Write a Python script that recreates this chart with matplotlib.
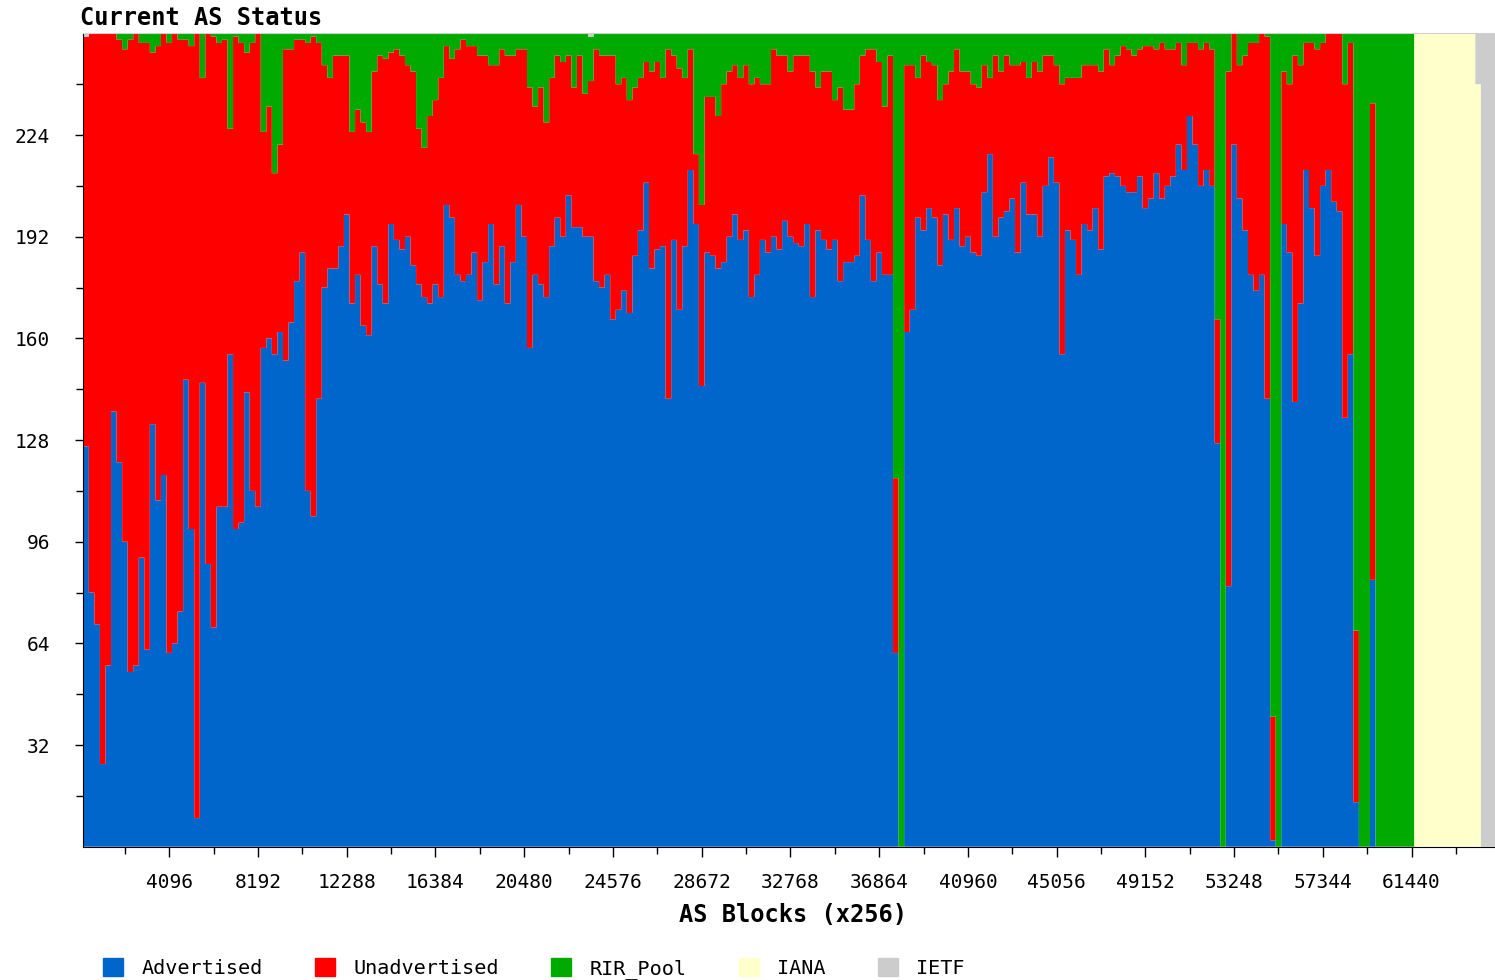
import numpy as np
import matplotlib
matplotlib.use('Agg')
import matplotlib.pyplot as plt
from matplotlib.patches import Patch

# one bar per block of 256 AS numbers (256 blocks), values = AS count per block
advertised = [
    126, 80, 70, 26, 57, 137, 121, 96, 55, 57, 91, 62, 133, 109, 117, 61,
    64, 74, 147, 100, 9, 146, 89, 69, 107, 107, 155, 100, 102, 143, 112, 107,
    157, 160, 155, 162, 153, 165, 178, 187, 112, 104, 141, 176, 182, 182, 189, 199,
    171, 180, 164, 161, 189, 177, 171, 196, 191, 188, 192, 183, 177, 173, 171, 177,
    173, 202, 198, 180, 178, 180, 187, 172, 184, 196, 177, 189, 171, 184, 202, 192,
    157, 180, 177, 173, 189, 198, 192, 205, 195, 195, 192, 192, 178, 176, 180, 166,
    169, 175, 168, 186, 194, 209, 182, 188, 189, 141, 191, 169, 189, 213, 196, 145,
    187, 186, 182, 184, 192, 199, 191, 194, 173, 180, 191, 187, 192, 188, 197, 192,
    190, 189, 196, 173, 194, 191, 188, 191, 178, 184, 184, 186, 205, 191, 178, 187,
    180, 180, 61, 0, 162, 169, 198, 194, 201, 198, 183, 199, 191, 201, 189, 192,
    187, 186, 206, 218, 192, 198, 200, 204, 187, 209, 199, 199, 192, 208, 217, 209,
    155, 194, 191, 180, 196, 194, 201, 188, 211, 212, 211, 208, 206, 206, 211, 201,
    204, 212, 204, 208, 211, 221, 213, 230, 221, 208, 213, 208, 127, 0, 82, 221,
    204, 194, 180, 175, 180, 141, 2, 0, 196, 187, 140, 171, 213, 201, 186, 208,
    213, 203, 200, 135, 155, 14, 0, 0, 84, 0, 0, 0, 0, 0, 0, 0,
    0, 0, 0, 0, 0, 0, 0, 0, 0, 0, 0, 0, 0, 0, 0, 0,
]
unadvertised = [
    129, 176, 186, 230, 199, 119, 133, 155, 199, 199, 162, 191, 117, 143, 139, 192,
    192, 180, 107, 152, 247, 96, 167, 186, 146, 147, 71, 155, 151, 107, 141, 149,
    68, 73, 57, 59, 98, 86, 76, 67, 141, 151, 112, 70, 60, 67, 60, 50,
    54, 52, 64, 64, 55, 72, 77, 54, 60, 61, 54, 61, 49, 47, 59, 58,
    69, 50, 50, 71, 76, 72, 65, 77, 65, 50, 69, 62, 78, 65, 49, 59,
    82, 53, 62, 55, 53, 51, 55, 44, 44, 54, 45, 49, 73, 73, 69, 83,
    71, 67, 67, 53, 48, 38, 62, 59, 53, 110, 58, 76, 53, 38, 22, 57,
    49, 50, 48, 56, 52, 47, 51, 52, 67, 62, 49, 53, 59, 61, 52, 52,
    59, 60, 53, 71, 45, 53, 56, 44, 61, 48, 48, 54, 44, 60, 73, 60,
    53, 69, 55, 0, 84, 77, 44, 55, 46, 48, 52, 41, 53, 50, 55, 52,
    53, 53, 40, 24, 57, 46, 49, 42, 59, 38, 43, 48, 52, 41, 32, 37,
    85, 48, 51, 62, 50, 52, 45, 56, 40, 34, 38, 44, 45, 43, 40, 51,
    48, 39, 49, 43, 40, 32, 33, 23, 32, 43, 40, 43, 39, 0, 162, 35,
    42, 55, 73, 78, 76, 114, 39, 0, 48, 53, 109, 75, 40, 52, 65, 45,
    43, 53, 56, 105, 98, 54, 0, 0, 150, 0, 0, 0, 0, 0, 0, 0,
    0, 0, 0, 0, 0, 0, 0, 0, 0, 0, 0, 0, 0, 0, 0, 0,
]
rir_pool = [
    0, 0, 0, 0, 0, 0, 2, 5, 2, 0, 3, 3, 6, 4, 0, 3,
    0, 2, 2, 4, 0, 14, 0, 1, 3, 2, 30, 1, 3, 6, 3, 0,
    31, 23, 44, 35, 5, 5, 2, 2, 3, 1, 3, 10, 14, 7, 7, 7,
    31, 24, 28, 31, 12, 7, 8, 6, 5, 7, 10, 12, 30, 36, 26, 21,
    14, 4, 8, 5, 2, 4, 4, 7, 7, 10, 10, 5, 7, 7, 5, 5,
    17, 23, 17, 28, 14, 7, 9, 7, 17, 7, 19, 14, 5, 7, 7, 7,
    16, 14, 21, 17, 14, 9, 12, 9, 14, 5, 7, 11, 14, 5, 38, 54,
    20, 20, 26, 16, 12, 10, 14, 10, 16, 14, 16, 16, 5, 7, 7, 12,
    7, 7, 7, 12, 17, 12, 12, 21, 17, 24, 24, 16, 7, 5, 5, 9,
    23, 7, 140, 256, 10, 10, 14, 7, 9, 10, 21, 16, 12, 5, 12, 12,
    16, 17, 10, 14, 7, 12, 7, 10, 10, 9, 14, 9, 12, 7, 7, 10,
    16, 14, 14, 14, 10, 10, 10, 12, 5, 10, 7, 4, 5, 7, 5, 4,
    4, 5, 3, 5, 5, 3, 10, 3, 3, 5, 3, 5, 90, 256, 12, 0,
    10, 7, 3, 3, 0, 1, 215, 256, 12, 16, 7, 10, 3, 3, 5, 3,
    0, 0, 0, 16, 3, 188, 256, 256, 22, 256, 256, 256, 256, 256, 256, 256,
    0, 0, 0, 0, 0, 0, 0, 0, 0, 0, 0, 0, 0, 0, 0, 0,
]
iana = [
    0, 0, 0, 0, 0, 0, 0, 0, 0, 0, 0, 0, 0, 0, 0, 0,
    0, 0, 0, 0, 0, 0, 0, 0, 0, 0, 0, 0, 0, 0, 0, 0,
    0, 0, 0, 0, 0, 0, 0, 0, 0, 0, 0, 0, 0, 0, 0, 0,
    0, 0, 0, 0, 0, 0, 0, 0, 0, 0, 0, 0, 0, 0, 0, 0,
    0, 0, 0, 0, 0, 0, 0, 0, 0, 0, 0, 0, 0, 0, 0, 0,
    0, 0, 0, 0, 0, 0, 0, 0, 0, 0, 0, 0, 0, 0, 0, 0,
    0, 0, 0, 0, 0, 0, 0, 0, 0, 0, 0, 0, 0, 0, 0, 0,
    0, 0, 0, 0, 0, 0, 0, 0, 0, 0, 0, 0, 0, 0, 0, 0,
    0, 0, 0, 0, 0, 0, 0, 0, 0, 0, 0, 0, 0, 0, 0, 0,
    0, 0, 0, 0, 0, 0, 0, 0, 0, 0, 0, 0, 0, 0, 0, 0,
    0, 0, 0, 0, 0, 0, 0, 0, 0, 0, 0, 0, 0, 0, 0, 0,
    0, 0, 0, 0, 0, 0, 0, 0, 0, 0, 0, 0, 0, 0, 0, 0,
    0, 0, 0, 0, 0, 0, 0, 0, 0, 0, 0, 0, 0, 0, 0, 0,
    0, 0, 0, 0, 0, 0, 0, 0, 0, 0, 0, 0, 0, 0, 0, 0,
    0, 0, 0, 0, 0, 0, 0, 0, 0, 0, 0, 0, 0, 0, 0, 0,
    256, 256, 256, 256, 256, 256, 256, 256, 256, 256, 256, 240, 0, 0, 0, 0,
]
ietf = [
    1, 0, 0, 0, 0, 0, 0, 0, 0, 0, 0, 0, 0, 0, 0, 0,
    0, 0, 0, 0, 0, 0, 0, 0, 0, 0, 0, 0, 0, 0, 0, 0,
    0, 0, 0, 0, 0, 0, 0, 0, 0, 0, 0, 0, 0, 0, 0, 0,
    0, 0, 0, 0, 0, 0, 0, 0, 0, 0, 0, 0, 0, 0, 0, 0,
    0, 0, 0, 0, 0, 0, 0, 0, 0, 0, 0, 0, 0, 0, 0, 0,
    0, 0, 0, 0, 0, 0, 0, 0, 0, 0, 0, 1, 0, 0, 0, 0,
    0, 0, 0, 0, 0, 0, 0, 0, 0, 0, 0, 0, 0, 0, 0, 0,
    0, 0, 0, 0, 0, 0, 0, 0, 0, 0, 0, 0, 0, 0, 0, 0,
    0, 0, 0, 0, 0, 0, 0, 0, 0, 0, 0, 0, 0, 0, 0, 0,
    0, 0, 0, 0, 0, 0, 0, 0, 0, 0, 0, 0, 0, 0, 0, 0,
    0, 0, 0, 0, 0, 0, 0, 0, 0, 0, 0, 0, 0, 0, 0, 0,
    0, 0, 0, 0, 0, 0, 0, 0, 0, 0, 0, 0, 0, 0, 0, 0,
    0, 0, 0, 0, 0, 0, 0, 0, 0, 0, 0, 0, 0, 0, 0, 0,
    0, 0, 0, 0, 0, 0, 0, 0, 0, 0, 0, 0, 0, 0, 0, 0,
    0, 0, 0, 0, 0, 0, 0, 0, 0, 0, 0, 0, 0, 0, 0, 0,
    0, 0, 0, 0, 0, 0, 0, 0, 0, 0, 0, 16, 256, 256, 256, 256,
]

series_names = ['Advertised', 'Unadvertised', 'RIR_Pool', 'IANA', 'IETF']
series_colors = ['#0066CC', '#FF0000', '#00AA00', '#FFFFCC', '#CCCCCC']

y_ticks = [32, 64, 96, 128, 160, 192, 224]
x_tick_labels = ['4096', '8192', '12288', '16384', '20480', '24576', '28672',
                 '32768', '36864', '40960', '45056', '49152', '53248',
                 '57344', '61440']

W, H = 1495, 980
fig = plt.figure(figsize=(W / 100, H / 100), dpi=100)
fig.patch.set_facecolor('white')

# plot area in pixels (right edge runs a little past the picture, like the original)
left, right, top, bottom = 83.3, 1503.1, 33.4, 846.7
ax = fig.add_axes([left / W, 1 - bottom / H, (right - left) / W, (bottom - top) / H])

mono = 'DejaVu Sans Mono'
edges = np.arange(len(advertised) + 1)
base = np.zeros(len(advertised))
# stacked bars drawn as filled steps so neighbouring bars have no seams
for vals, name, col in zip([advertised, unadvertised, rir_pool, iana, ietf],
                           series_names, series_colors):
    vals = np.array(vals, dtype=float)
    ax.stairs(base + vals, edges, baseline=base, fill=True, color=col,
              linewidth=0.5, label=name)
    base = base + vals

ax.set_xlim(0, 256)
ax.set_ylim(0, 256)

# ticks: labels sit on the centre of the last bar of each 16-block group
ax.set_xticks([16 * (k + 1) - 0.5 for k in range(len(x_tick_labels))])
ax.set_xticklabels(x_tick_labels)
ax.set_xticks([16 * k + 7.5 for k in range(16)], minor=True)
ax.set_yticks(y_ticks)
ax.set_yticks([16 * k for k in range(1, 16)], minor=True)

ax.tick_params(axis='both', which='both', direction='out', color='black',
               width=1, labelsize=14)
ax.tick_params(axis='x', which='major', length=7, pad=12)
ax.tick_params(axis='x', which='minor', length=5)
ax.tick_params(axis='y', which='major', length=6, pad=18)
ax.tick_params(axis='y', which='minor', length=5)
for lab in ax.get_xticklabels() + ax.get_yticklabels():
    lab.set_family(mono)

ax.spines['left'].set_color('black')
ax.spines['bottom'].set_color('black')
ax.spines['top'].set_color('#d0d0d0')
ax.spines['right'].set_visible(False)

fig.text(80 / W, 1 - 25 / H, 'Current AS Status', family=mono,
         fontweight='bold', fontsize=17, ha='left', va='baseline')
fig.text(793 / W, 1 - 922 / H, 'AS Blocks (x256)', family=mono,
         fontweight='bold', fontsize=17, ha='center', va='baseline')

handles = [Patch(facecolor=c, edgecolor=c) for c in series_colors]
fig.legend(handles, series_names, loc='lower left',
           bbox_to_anchor=(103 / W, 1 / H), ncol=5, frameon=False,
           prop={'family': mono, 'size': 14.5}, handlelength=1.0,
           handleheight=1.0, handletextpad=0.9, columnspacing=2.6,
           borderpad=0, borderaxespad=0)

fig.savefig('out.png', dpi=100)
